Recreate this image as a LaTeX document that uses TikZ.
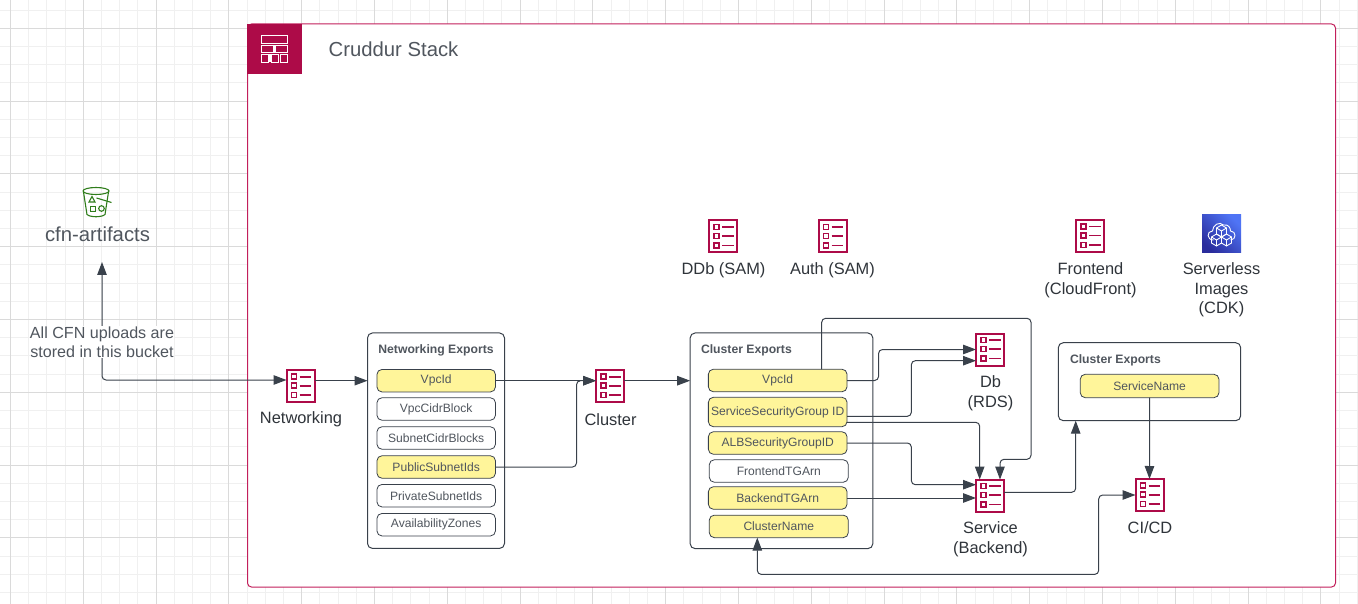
\documentclass[tikz,border=0pt]{standalone}
\usepackage{fontspec}
\usepackage{xcolor}
\usetikzlibrary{arrows.meta}
\setmainfont{Liberation Sans}
\definecolor{crimson}{HTML}{AD0B48}
\definecolor{frameline}{HTML}{C21F5B}
\definecolor{wirecol}{HTML}{39414B}
\definecolor{itemtext}{HTML}{50565E}
\definecolor{labeltext}{HTML}{2F343A}
\definecolor{exportfill}{HTML}{FFF59A}
\definecolor{bucketgreen}{HTML}{2F7D1B}
\definecolor{gridmajor}{HTML}{DADADA}
\definecolor{gridminor}{HTML}{F0F0F0}
\definecolor{cdktop}{HTML}{4F74F5}
\definecolor{cdkbottom}{HTML}{2A2C9C}
\begin{document}
\begin{tikzpicture}[x=1pt, y=-1pt,
  every node/.style={inner sep=0pt, outer sep=0pt},
  wire/.style={draw=wirecol, line width=1pt, rounded corners=4pt, -{Triangle[length=13pt,width=9.5pt]}},
  twoway/.style={wire, {Triangle[length=13pt,width=9.5pt]}-{Triangle[length=13pt,width=9.5pt]}},
  iconlabel/.style={text=labeltext, align=center, font=\fontsize{16.4}{19.6}\selectfont},
  biglabel/.style={text=itemtext, font=\fontsize{20.3}{24}\selectfont},
  exportbox/.style={draw=wirecol, line width=1pt, rounded corners=5pt, fill=white},
  boxtitle/.style={text=itemtext, font=\bfseries\fontsize{12.2}{14}\selectfont},
  item/.style={draw=wirecol, line width=.8pt, rounded corners=5pt, fill=white, text=itemtext,
    minimum height=22.5pt, font=\fontsize{12.1}{14}\selectfont},
  live/.style={item, fill=exportfill},
  cfnicon/.style={draw=crimson, line width=2pt, fill=white, minimum width=28pt, minimum height=32pt,
    path picture={
      \begin{scope}[shift={(path picture bounding box.center)}]
        \foreach \rowy in {-9.3,-.3,9} {
          \draw[crimson, line width=1.5pt] (-9,\rowy-2.7) rectangle (-4,\rowy+2.3);
          \draw[crimson, line width=1.6pt] (-1,\rowy) -- (10.5,\rowy);
        }
      \end{scope}
    }},
  cdkicon/.style={minimum width=39pt, minimum height=38pt, top color=cdktop, bottom color=cdkbottom, shading angle=-45,
    path picture={
      \begin{scope}[shift={(path picture bounding box.center)}, white, line width=.9pt]
        \draw (-8,6) .. controls (-15,6) and (-15,-3) .. (-9,-3)
          .. controls (-9,-9) and (-2,-13) .. (2,-9)
          .. controls (7,-10) and (9,-6) .. (9,-3)
          .. controls (15,-3) and (15,6) .. (9,6);
        \foreach \cubex/\cubey in {0/-3,-5/6,5/6} {
          \draw (\cubex-5,\cubey-3) -- (\cubex,\cubey-6) -- (\cubex+5,\cubey-3) -- (\cubex+5,\cubey+3)
            -- (\cubex,\cubey+6) -- (\cubex-5,\cubey+3) -- cycle;
          \draw (\cubex-5,\cubey-3) -- (\cubex,\cubey) -- (\cubex+5,\cubey-3) (\cubex,\cubey) -- (\cubex,\cubey+6);
        }
      \end{scope}
    }},
  bucketicon/.style={minimum width=30pt, minimum height=32pt,
    path picture={
      \begin{scope}[shift={(path picture bounding box.center)}, bucketgreen, line width=1.1pt]
        \draw (-1.5,-11.5) ellipse (13pt and 3.5pt);
        \draw (-14,-10.5) -- (-10.5,12) .. controls (-7,15) and (4,15) .. (7.5,12) -- (11,-10.5);
        \draw (-8.5,-.5) -- (-5.5,-6) -- (-2.5,-.5) -- cycle;
        \draw (-7,4) rectangle (-2,9);
        \draw (4,6) circle (2.8pt);
        \draw (-1,-4.5) -- (14,0);
      \end{scope}
    }},
  stackhead/.style={fill=crimson, minimum width=55pt, minimum height=50pt,
    path picture={
      \begin{scope}[shift={(path picture bounding box.center)}, white, line width=1.2pt]
        \draw (-13,-13.3) rectangle (13.3,-5.7);
        \draw (-13,-3.3) rectangle (-.6,3.7) (.9,-3.3) rectangle (13.3,3.7);
        \draw (-13,5.3) rectangle (-6.2,13.3) (-3,5.3) rectangle (4,13.3) (5.6,5.3) rectangle (13.3,13.3);
        \fill (-6.2,5.3) rectangle (-3,13.3);
      \end{scope}
    }}]
\useasboundingbox (0,0) rectangle (1358,604);

\foreach \k in {0,...,74} {
  \draw[gridminor, line width=1pt] ({10.5+18.2*\k},0) -- ++(0,604);
}
\foreach \k in {0,...,33} {
  \draw[gridminor, line width=1pt] (0,{10.1+18.2*\k}) -- ++(1358,0);
}
\foreach \k in {0,...,18} {
  \draw[gridmajor, line width=1pt] ({10.5+72.8*\k},0) -- ++(0,604);
}
\foreach \k in {0,...,7} {
  \draw[gridmajor, line width=1pt] (0,{28.3+72.8*\k}) -- ++(1358,0);
}

\node[draw=frameline, line width=1pt, fill=white, rounded corners=4pt, minimum width=1088pt, minimum height=563pt] (stack) at (791.5,305.5) {};
\node[stackhead] (stackbadge) at (274.5,49) {};
\node[biglabel] (stacktitle) at (393.5,49.5) {Cruddur Stack};

\node[bucketicon] (bucket) at (97.5,202.5) {};
\node[biglabel] (artifacts) at (97.5,234.5) {cfn-artifacts};

\node[cfnicon] (networking) at (300.5,386) {};
\node[iconlabel] (networkinglabel) at (301,419.5) {Networking};
\node[cfnicon] (cluster) at (610,386) {};
\node[iconlabel] (clusterlabel) at (610.5,419.5) {Cluster};
\node[cfnicon] (ddb) at (723,236.5) {};
\node[iconlabel] (ddblabel) at (723.5,270) {DDb (SAM)};
\node[cfnicon] (auth) at (832.5,236.5) {};
\node[iconlabel] (authlabel) at (832.5,270) {Auth (SAM)};
\node[cfnicon] (frontend) at (1090,236) {};
\node[iconlabel] (frontendlabel) at (1090.5,280) {Frontend\\(CloudFront)};
\node[cdkicon] (images) at (1221.5,234) {};
\node[iconlabel] (imageslabel) at (1221.5,290) {Serverless\\Images\\(CDK)};
\node[cfnicon] (db) at (990,349.5) {};
\node[iconlabel] (dblabel) at (990.5,393.5) {Db\\(RDS)};
\node[cfnicon] (service) at (990,495.5) {};
\node[iconlabel] (servicelabel) at (990.5,539.5) {Service\\(Backend)};
\node[cfnicon] (cicd) at (1149.5,495) {};
\node[iconlabel] (cicdlabel) at (1150,527.5) {CI/CD};

\node[exportbox, minimum width=137pt, minimum height=215.5pt] (netexports) at (436,440.7) {};
\node[boxtitle] (netexportstitle) at (436,350.5) {Networking Exports};
\node[live, minimum width=118.5pt] (netvpc) at (436.2,380.7) {VpcId};
\node[item, minimum width=118.5pt] (netcidr) at (436.2,409) {VpcCidrBlock};
\node[item, minimum width=118.5pt] (netsubnetcidr) at (436.2,438) {SubnetCidrBlocks};
\node[live, minimum width=118.5pt] (netpublic) at (436.2,467) {PublicSubnetIds};
\node[item, minimum width=118.5pt] (netprivate) at (436.2,495.7) {PrivateSubnetIds};
\node[item, minimum width=118.5pt] (netzones) at (436.2,524.7) {AvailabilityZones};

\node[exportbox, minimum width=182.7pt, minimum height=215.7pt] (clusterexports) at (781.5,440.8) {};
\node[boxtitle, anchor=west] (clusterexportstitle) at (701,350.5) {Cluster Exports};
\node[live, minimum width=138.7pt] (clvpc) at (777.7,380.5) {VpcId};
\node[live, minimum width=138.7pt, minimum height=29.4pt] (clsecurity) at (777.7,412) {ServiceSecurityGroup ID};
\node[live, minimum width=138.7pt] (clalb) at (777.7,443) {ALBSecurityGroupID};
\node[item, minimum width=139pt] (clfrontend) at (778.8,471) {FrontendTGArn};
\node[live, minimum width=138.7pt] (clbackend) at (777.7,498) {BackendTGArn};
\node[live, minimum width=139pt] (clname) at (778.8,526.4) {ClusterName};

\node[exportbox, minimum width=182.4pt, minimum height=78pt] (svcexports) at (1149.5,381.7) {};
\node[boxtitle, anchor=west] (svcexportstitle) at (1070,360) {Cluster Exports};
\node[live, minimum width=138.7pt, minimum height=23.4pt] (svcname) at (1149.6,386) {ServiceName};

\coordinate (bucketend) at (102,262);
\draw[twoway] (bucketend) |- ([yshift=6pt]networking.west);
\node[text=itemtext, fill=white, align=center, font=\fontsize{16.1}{19.5}\selectfont] (uploadnote) at (102,342) {All CFN uploads are\\stored in this bucket};

\draw[wire] ([yshift=5.3pt]networking.east) -- ([yshift=5.3pt]networking.east -| netexports.west);
\draw[wire] (netvpc.east) -- (netvpc.east -| cluster.west);
\draw[wire] (netpublic.east) -| (576.5,380.7) -- (netvpc.east -| cluster.west);
\draw[wire] ([yshift=5.3pt]cluster.east) -- ([yshift=5.3pt]cluster.east -| clusterexports.west);

\draw[wire] (clvpc.east) -- ++(31.5,0) |- (db.west);
\draw[wire] ([yshift=-4.3pt]clsecurity.east) -- ++(64.3,0) |- ([yshift=-11.2pt]db.west);
\draw[wire] ([yshift=-10.3pt]clsecurity.east) -| ([xshift=-10.3pt]service.north);
\draw[wire] (clvpc.north -| 821.7,0) |- (1031,318.3) |- (1000,459.3) -- ([xshift=10pt]service.north);
\draw[wire] (clalb.east) -- ++(64.3,0) |- ([yshift=10.8pt]service.west);
\draw[wire] (clbackend.east) -- (clbackend.east -| service.west);

\draw[wire] ([yshift=3.2pt]service.east) -| (svcexports.south -| 1075.7,0);
\draw[wire] (svcname.south) -- (cicd.north);
\draw[twoway] (clname.south -| 757.3,0) |- (1098.7,574.4) |- (cicd.west);
\end{tikzpicture}
\end{document}
